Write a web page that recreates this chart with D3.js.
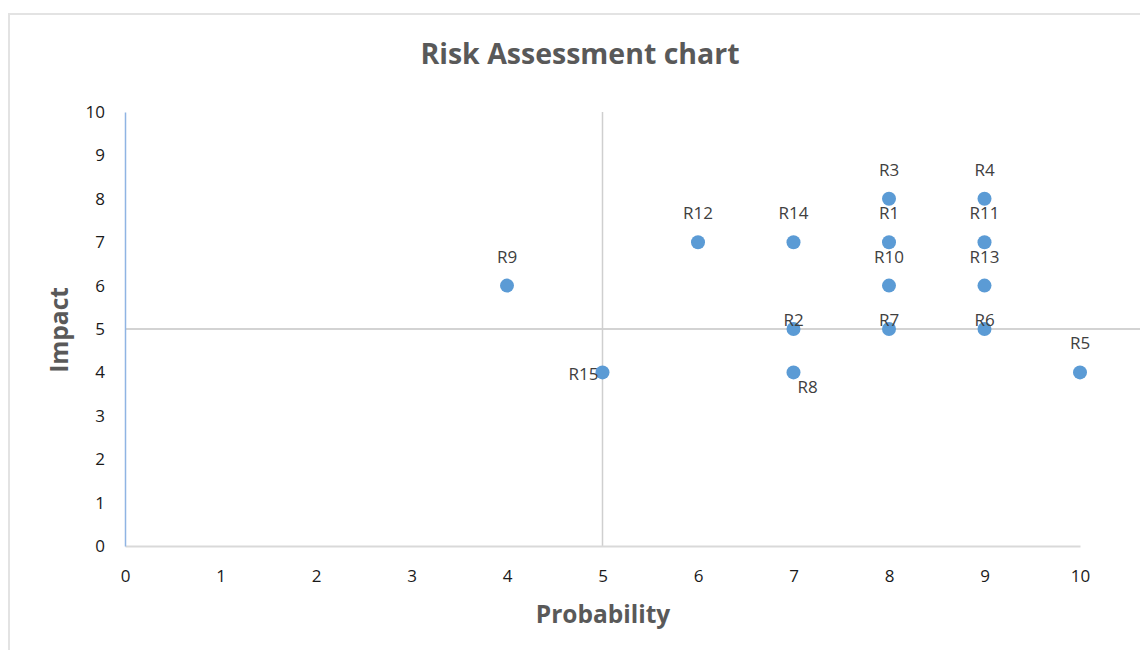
<!DOCTYPE html>
<html>
<head>
<meta charset="utf-8">
<script src="https://cdn.jsdelivr.net/npm/d3@7"></script>
<style>
  html, body { margin: 0; padding: 0; background: #fff; }
  svg { display: block; font-family: "Open Sans", Lato, sans-serif; }
</style>
</head>
<body>
<svg id="chart" width="1140" height="650"></svg>
<script>
// Risk register: probability (x) and impact (y) for each risk
const risks = ["R1", "R2", "R3", "R4", "R5", "R6", "R7", "R8", "R9", "R10", "R11", "R12", "R13", "R14", "R15"];
const probability = [8, 7, 8, 9, 10, 9, 8, 7, 4, 8, 9, 6, 9, 7, 5];
const impact = [7, 5, 8, 8, 4, 5, 5, 4, 6, 6, 7, 7, 6, 7, 4];
// where each data label sits relative to its point
const labelPlacement = ["above", "near", "above", "above", "above", "near", "near", "belowRight", "above", "above", "above", "above", "above", "above", "left"];

const xTicks = [0, 1, 2, 3, 4, 5, 6, 7, 8, 9, 10];
const yTicks = [0, 1, 2, 3, 4, 5, 6, 7, 8, 9, 10];
// quadrant dividers
const midProbability = 5;
const midImpact = 5;

const svg = d3.select("#chart");

// chart frame
svg.append("rect")
  .attr("x", 9).attr("y", 14)
  .attr("width", 1160).attr("height", 660)
  .attr("fill", "#fff")
  .attr("stroke", "#e3e3e3")
  .attr("stroke-width", 2);

const x = d3.scaleLinear().domain([0, 10]).range([125, 1080]);
const y = d3.scaleLinear().domain([0, 10]).range([546, 112]);

// title
svg.append("text")
  .attr("x", 580).attr("y", 64)
  .attr("text-anchor", "middle")
  .attr("font-size", 28.5)
  .attr("font-weight", 700)
  .attr("fill", "#595959")
  .text("Risk Assessment chart");

// quadrant divider lines
svg.append("line")
  .attr("x1", x(0)).attr("x2", 1140)
  .attr("y1", y(midImpact)).attr("y2", y(midImpact))
  .attr("stroke", "#c4c4c4").attr("stroke-width", 1.5);
svg.append("line")
  .attr("x1", x(midProbability)).attr("x2", x(midProbability))
  .attr("y1", y(10)).attr("y2", y(0))
  .attr("stroke", "#cfcfcf").attr("stroke-width", 1.5);

// x axis
const xAxis = svg.append("g")
  .attr("transform", `translate(0,${y(0)})`)
  .call(d3.axisBottom(x).tickValues(xTicks).tickSize(0).tickPadding(24).tickFormat(d3.format("d")));
xAxis.select(".domain").attr("stroke", "#d9d9d9").attr("stroke-width", 2);
xAxis.selectAll("text").attr("font-size", 17).attr("fill", "#1a1a1a").attr("font-family", "'Open Sans', sans-serif");

// y axis
const yAxis = svg.append("g")
  .attr("transform", `translate(${x(0)},0)`)
  .call(d3.axisLeft(y).tickValues(yTicks).tickSize(0).tickPadding(20).tickFormat(d3.format("d")));
yAxis.select(".domain").attr("stroke", "#8fb4e3").attr("stroke-width", 1.5);
yAxis.selectAll("text").attr("font-size", 17).attr("fill", "#1a1a1a").attr("font-family", "'Open Sans', sans-serif");

// axis titles
svg.append("text")
  .attr("x", 603).attr("y", 623)
  .attr("text-anchor", "middle")
  .attr("font-size", 24.5)
  .attr("font-weight", 700)
  .attr("fill", "#595959")
  .text("Probability");
svg.append("text")
  .attr("transform", "translate(68,330) rotate(-90)")
  .attr("text-anchor", "middle")
  .attr("font-size", 24.5)
  .attr("font-weight", 700)
  .attr("fill", "#595959")
  .text("Impact");

const data = risks.map((name, i) => ({
  name, p: probability[i], im: impact[i], place: labelPlacement[i]
}));

// points
svg.append("g").selectAll("circle")
  .data(data)
  .join("circle")
  .attr("cx", d => x(d.p))
  .attr("cy", d => y(d.im))
  .attr("r", 7)
  .attr("fill", "#5b9bd5");

// data labels
const offsets = {
  above: { dx: 0, dy: -23, anchor: "middle" },
  near: { dx: 0, dy: -3, anchor: "middle" },
  left: { dx: -4, dy: 8, anchor: "end" },
  belowRight: { dx: 14, dy: 21, anchor: "middle" }
};
svg.append("g").selectAll("text")
  .data(data)
  .join("text")
  .attr("x", d => x(d.p) + offsets[d.place].dx)
  .attr("y", d => y(d.im) + offsets[d.place].dy)
  .attr("text-anchor", d => offsets[d.place].anchor)
  .attr("font-size", 17)
  .attr("fill", "#404040")
  .text(d => d.name);
</script>
</body>
</html>
